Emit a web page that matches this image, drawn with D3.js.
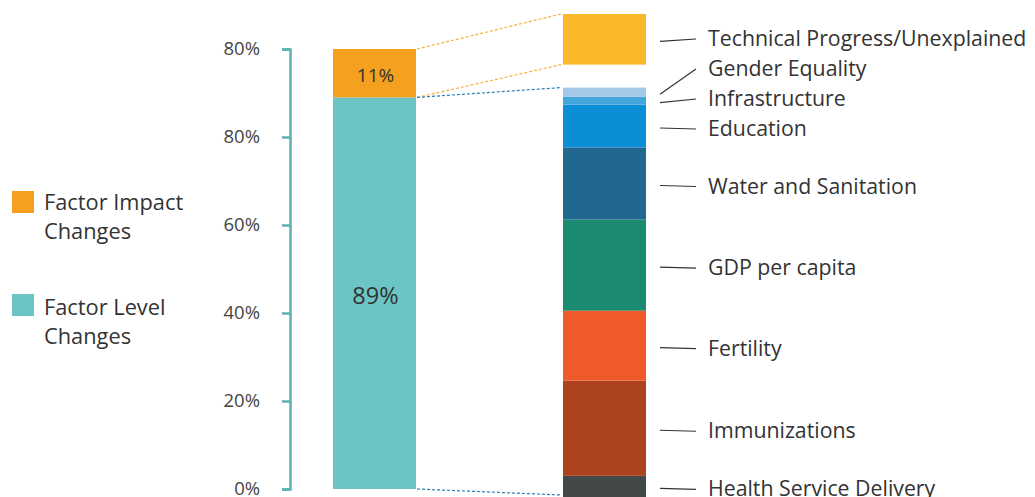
<!DOCTYPE html>
<html>
<head>
<meta charset="utf-8">
<script src="https://cdn.jsdelivr.net/npm/d3@7"></script>
<style>
  body { margin: 0; background: #fff; }
  svg { font-family: "Open Sans", "Noto Sans", sans-serif; }
</style>
</head>
<body>
<svg id="chart" width="1035" height="497"></svg>
<script>
// Left bar: split of change
const splitLabels = ['Factor Level Changes', 'Factor Impact Changes'];
const splitValues = [89, 11];
const splitColors = ['#6bc5c5', '#f5a01e'];

// Right bar: breakdown of factor level changes (bottom to top)
const factors = ['Health Service Delivery', 'Immunizations', 'Fertility', 'GDP per capita',
  'Water and Sanitation', 'Education', 'Infrastructure', 'Gender Equality'];
const factorValues = [4.6, 20.7, 15.2, 19.8, 15.7, 9.3, 1.7, 2.0];
const factorColors = ['#434948', '#ac431e', '#ef5a2a', '#1a8a70', '#206890', '#0a8fd6', '#42a5dc', '#a4c8e8'];

const techLabel = 'Technical Progress/Unexplained';
const techValue = 11;
const techColor = '#fbb829';

// Axis ticks (labels as printed)
const tickValues = [0, 20, 40, 60, 80, 100];
const tickLabels = ['0%', '20%', '40%', '60%', '80%', '80%'];

const svg = d3.select('#chart');

// Left scale
const y = d3.scaleLinear().domain([0, 100]).range([489, 49]);
// Right scale (zoomed stack, with a gap before the tech segment)
const gap = 5;
const yR = d3.scaleLinear().domain([0, 100]).range([497, 37]);

// Axis
const axis = d3.axisLeft(y)
  .tickValues(tickValues)
  .tickSize(8)
  .tickPadding(22)
  .tickFormat((d, i) => tickLabels[i]);
const gAxis = svg.append('g').attr('transform', 'translate(290,0)').call(axis);
gAxis.select('.domain').attr('stroke', '#5fb0b0').attr('stroke-width', 2.5);
gAxis.selectAll('.tick line').attr('stroke', '#5fb0b0').attr('stroke-width', 2.5);
gAxis.selectAll('.tick text')
  .attr('fill', '#444')
  .attr('font-size', 18.5)
  .attr('dy', '0.3em')
  .attr('font-family', '"Open Sans", sans-serif');

// Left stacked bar
const x0 = 333, x1 = 416;
let acc = 0;
const leftSegs = splitValues.map((v, i) => {
  const s = { y0: acc, y1: acc + v, v, color: splitColors[i] };
  acc += v;
  return s;
});
svg.selectAll('rect.left').data(leftSegs).join('rect')
  .attr('class', 'left')
  .attr('x', x0)
  .attr('width', x1 - x0)
  .attr('y', d => y(d.y1))
  .attr('height', d => y(d.y0) - y(d.y1))
  .attr('fill', d => d.color);

svg.selectAll('text.leftlab').data(leftSegs).join('text')
  .attr('class', 'leftlab')
  .attr('x', (x0 + x1) / 2 + 1)
  .attr('y', d => (y(d.y0) + y(d.y1)) / 2 + 2)
  .attr('dy', '0.36em')
  .attr('text-anchor', 'middle')
  .attr('fill', '#333')
  .attr('font-size', (d, i) => i === 0 ? 23.5 : 19)
  .text(d => d.v + '%');

// Right stacked bar
const rx0 = 563, rx1 = 646;
acc = 0;
const rightSegs = factorValues.map((v, i) => {
  const s = { y0: acc, y1: acc + v, label: factors[i], color: factorColors[i] };
  acc += v;
  return s;
});
const levelTotal = acc;
rightSegs.push({ y0: levelTotal + gap, y1: levelTotal + gap + techValue, label: techLabel, color: techColor });

svg.selectAll('rect.right').data(rightSegs).join('rect')
  .attr('class', 'right')
  .attr('x', rx0)
  .attr('width', rx1 - rx0)
  .attr('y', d => yR(d.y1))
  .attr('height', d => yR(d.y0) - yR(d.y1))
  .attr('fill', d => d.color);

// Dashed connectors
const tech = rightSegs[rightSegs.length - 1];
const connectors = [
  { a: y(100), b: yR(tech.y1), c: '#f5b23a' },
  { a: y(splitValues[0]), b: yR(tech.y0), c: '#f5b23a' },
  { a: y(splitValues[0]), b: yR(levelTotal), c: '#2d7fb5' },
  { a: y(0), b: yR(0) - 2, c: '#2d7fb5' }
];
svg.selectAll('line.conn').data(connectors).join('line')
  .attr('x1', x1 + 1).attr('x2', rx0 - 2)
  .attr('y1', d => d.a).attr('y2', d => d.b)
  .attr('stroke', d => d.c)
  .attr('stroke-width', 1.2)
  .attr('stroke-dasharray', '3,2');

// Labels with simple collision avoidance (bottom to top)
const labs = rightSegs.map(d => ({ ...d, mid: (yR(d.y0) + yR(d.y1)) / 2 }));
let prev = Infinity;
labs.forEach(d => {
  d.ty = Math.min(d.mid + 3, prev - 30);
  prev = d.ty;
});

svg.selectAll('line.lead').data(labs).join('line')
  .attr('x1', 660).attr('x2', 696)
  .attr('y1', d => d.mid + 2)
  .attr('y2', d => d.ty)
  .attr('stroke', '#333')
  .attr('stroke-width', 1.2);

svg.selectAll('text.flab').data(labs).join('text')
  .attr('class', 'flab')
  .attr('x', 708)
  .attr('y', d => d.ty)
  .attr('dy', '0.33em')
  .attr('fill', '#333')
  .attr('font-size', 21.3)
  .text(d => d.label);

// Legend
const legendItems = [
  { lines: ['Factor Impact', 'Changes'], color: splitColors[1], top: 191 },
  { lines: ['Factor Level', 'Changes'], color: splitColors[0], top: 294 }
];
const lg = svg.append('g');
legendItems.forEach((it, k) => {
  lg.append('rect')
    .attr('x', 12).attr('y', it.top)
    .attr('width', 22).attr('height', 22)
    .attr('fill', it.color);
  const t = lg.append('text')
    .attr('x', 44).attr('y', it.top + 19 + k * 2)
    .attr('fill', '#333')
    .attr('font-size', 21.8);
  it.lines.forEach((l, i) => {
    t.append('tspan').attr('x', 44).attr('dy', i === 0 ? 0 : 29).text(l);
  });
});
</script>
</body>
</html>
